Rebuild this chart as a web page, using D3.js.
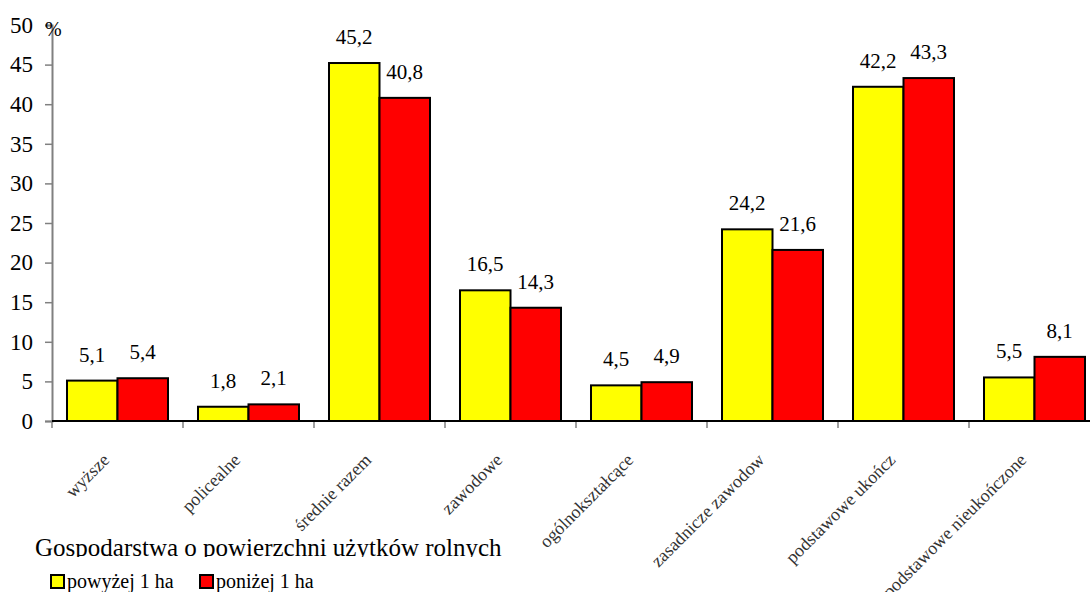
<!DOCTYPE html>
<html>
<head>
<meta charset="utf-8">
<script src="https://cdn.jsdelivr.net/npm/d3@7"></script>
<style>
  body { margin: 0; background: #fff; }
  svg text { font-family: "Liberation Serif", "Times New Roman", serif !important; }
</style>
</head>
<body>
<svg id="chart" width="1090" height="592"></svg>
<script>
// dane z wykresu
const categories = ["wyższe", "policealne", "średnie razem", "zawodowe", "ogólnokształcące",
  "zasadnicze zawodowe", "podstawowe ukończone", "podstawowe nieukończone"];
// etykiety osi tak jak widać na obrazku (ucięte)
const categoryLabels = ["wyższe", "policealne", "średnie razem", "zawodowe", "ogólnokształcące",
  "zasadnicze zawodow", "podstawowe ukończ", "podstawowe nieukończone"];
const powyzej = [5.1, 1.8, 45.2, 16.5, 4.5, 24.2, 42.2, 5.5];
const ponizej = [5.4, 2.1, 40.8, 14.3, 4.9, 21.6, 43.3, 8.1];
const seriesNames = ["powyżej 1 ha", "poniżej 1 ha"];
const yTicks = [0, 5, 10, 15, 20, 25, 30, 35, 40, 45, 50];
const legendTitle = "Gospodarstwa o powierzchni użytków rolnych";

const svg = d3.select("#chart");
const width = +svg.attr("width");
const margin = { top: 25, left: 52 };
const y0 = 421;
const step = 131;

const x = d3.scaleBand()
  .domain(categories)
  .range([margin.left, margin.left + step * categories.length])
  .paddingInner(0.229)
  .paddingOuter(0.1145);
const xSub = d3.scaleBand().domain([0, 1]).range([0, x.bandwidth()]);
const y = d3.scaleLinear().domain([0, 50]).range([y0, margin.top]);
const colors = ["#ffff00", "#ff0000"];

const rows = categories.map((c, i) => ({ cat: c, vals: [powyzej[i], ponizej[i]] }));

// słupki
const groups = svg.append("g").selectAll("g").data(rows).join("g")
  .attr("transform", d => `translate(${x(d.cat)},0)`);
groups.selectAll("rect").data(d => d.vals.map((v, k) => ({ v, k }))).join("rect")
  .attr("x", d => xSub(d.k))
  .attr("width", xSub.bandwidth())
  .attr("y", d => y(d.v))
  .attr("height", d => y0 - y(d.v))
  .attr("fill", d => colors[d.k])
  .attr("stroke", "#000")
  .attr("stroke-width", 2);
groups.selectAll("text").data(d => d.vals.map((v, k) => ({ v, k }))).join("text")
  .attr("x", d => xSub(d.k) + xSub.bandwidth() / 2)
  .attr("y", d => y(d.v) - 19)
  .attr("text-anchor", "middle")
  .attr("font-size", 21)
  .text(d => d3.format(".1f")(d.v).replace(".", ","));

// oś Y
const yAxis = svg.append("g")
  .attr("transform", `translate(${margin.left},0)`)
  .call(d3.axisLeft(y).tickValues(yTicks).tickSize(7).tickPadding(12));
yAxis.attr("font-family", null);
yAxis.select(".domain").attr("stroke", "#808080").attr("stroke-width", 2);
yAxis.selectAll(".tick line").attr("stroke", "#808080").attr("stroke-width", 1.5);
yAxis.selectAll(".tick text").attr("font-size", 23).attr("fill", "#000");

svg.append("text")
  .attr("x", margin.left - 7).attr("y", 36)
  .attr("font-size", 20)
  .text("%");

// oś X
const bounds = d3.range(categories.length + 1).map(i => margin.left + i * step);
svg.append("g").selectAll("line").data(bounds).join("line")
  .attr("x1", d => d).attr("x2", d => d)
  .attr("y1", y0).attr("y2", y0 + 7)
  .attr("stroke", "#808080").attr("stroke-width", 1.5);
svg.append("line")
  .attr("x1", margin.left).attr("x2", width)
  .attr("y1", y0).attr("y2", y0)
  .attr("stroke", "#000").attr("stroke-width", 2);

svg.append("g").selectAll("text").data(categories).join("text")
  .attr("transform", d => `translate(${x(d) + x.bandwidth() / 2 - 7},${y0 + 40}) rotate(-45)`)
  .attr("text-anchor", "end")
  .attr("font-size", 18)
  .attr("fill", "#333")
  .text((d, i) => categoryLabels[i]);

// legenda
svg.append("clipPath").attr("id", "titleClip")
  .append("rect").attr("x", 0).attr("y", 520).attr("width", 600).attr("height", 37);
svg.append("text")
  .attr("x", 35).attr("y", 556)
  .attr("font-size", 25)
  .attr("clip-path", "url(#titleClip)")
  .text(legendTitle);

const legend = svg.append("g").selectAll("g").data(seriesNames).join("g")
  .attr("transform", (d, i) => `translate(${51 + i * 149},575)`);
legend.append("rect")
  .attr("width", 13).attr("height", 13)
  .attr("fill", (d, i) => colors[i])
  .attr("stroke", "#000").attr("stroke-width", 2);
legend.append("text")
  .attr("x", 16).attr("y", 13)
  .attr("font-size", 20)
  .text(d => d);
</script>
</body>
</html>
